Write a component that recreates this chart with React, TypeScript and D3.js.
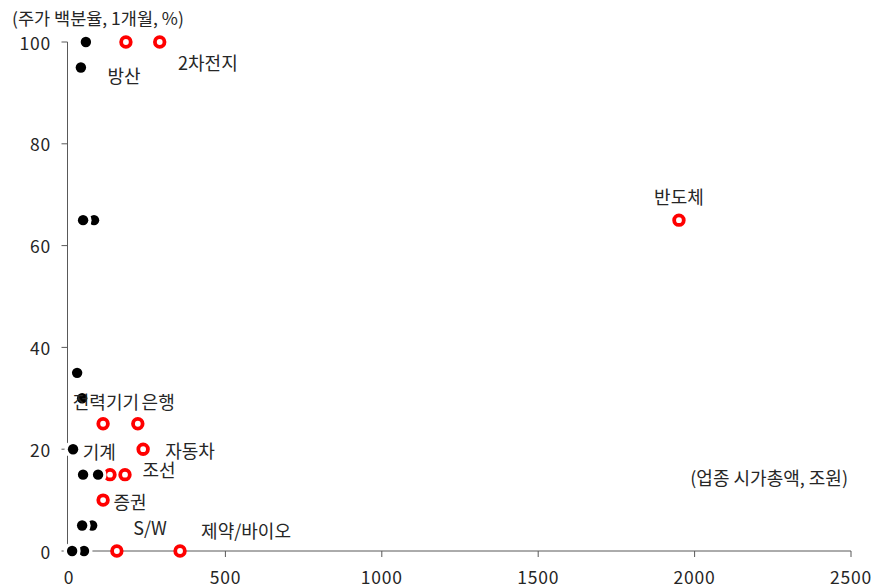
import React from "react";
import * as d3 from "d3";

// Black series (sector points)
const blackX = [54, 38, 45, 80, 26, 42, 13, 45, 93, 42, 74, 10, 48];
const blackY = [100, 95, 65, 65, 35, 30, 20, 15, 15, 5, 5, 0, 0];

// Red hollow series
const redX = [182, 290, 1950, 109, 220, 237, 131, 179, 109, 153, 355];
const redY = [100, 100, 65, 25, 25, 20, 15, 15, 10, 0, 0];

// Sector labels (anchored in data units)
const labelNames = ["방산", "2차전지", "반도체", "전력기기", "은행", "기계", "자동차", "조선", "증권", "S/W", "제약/바이오"];
const labelX = [176, 444, 1950, 118, 285, 97, 387, 288, 195, 259, 566];
const labelY = [93.5, 96.1, 69.7, 29.5, 29.5, 19.6, 19.8, 16.1, 9.8, 4.7, 4.1];

const xTicks = [0, 500, 1000, 1500, 2000, 2500];
const yTicks = [0, 20, 40, 60, 80, 100];

const yTitle = "(주가 백분율, 1개월, %)";
const xTitle = "(업종 시가총액, 조원)";

const W = 878;
const H = 588;
const FONT = "'Noto Sans CJK KR', 'Noto Sans', sans-serif";

export default function App() {
  const x = d3.scaleLinear().domain([0, 2500]).range([69, 851]);
  const y = d3.scaleLinear().domain([0, 100]).range([551, 42]);

  const black = blackX.map((v, i) => ({ x: v, y: blackY[i] }));
  // draw right-most first so left markers overlap them
  const blackDraw = black.slice().sort((a, b) => b.x - a.x);
  const red = redX.map((v, i) => ({ x: v, y: redY[i] }));
  const labels = labelNames.map((n, i) => ({ n, x: labelX[i], y: labelY[i] }));

  const axisColor = "#595959";
  const textColor = "#262626";

  return (
    <svg
      width={W}
      height={H}
      style={{ position: "absolute", left: 0, top: 0, background: "#fff" }}
      fontFamily={FONT}
    >
      {/* axes */}
      <line x1={x(0)} x2={x(2500)} y1={y(0)} y2={y(0)} stroke={axisColor} strokeWidth={1} />
      {xTicks.map((t) => (
        <g key={"xt" + t}>
          <line x1={x(t)} x2={x(t)} y1={y(0)} y2={y(0) + 6} stroke={axisColor} />
          <text x={x(t)} y={y(0) + 25} textAnchor="middle" dominantBaseline="central" fontSize={17.5} letterSpacing={0.8} fill={textColor}>
            {t}
          </text>
        </g>
      ))}
      <line x1={x(0) - 1.5} x2={x(0) - 1.5} y1={y(100)} y2={y(0)} stroke={axisColor} strokeWidth={1} />
      {yTicks.map((t) => (
        <g key={"yt" + t}>
          <line x1={x(0) - 7.5} x2={x(0) - 1.5} y1={y(t)} y2={y(t)} stroke={axisColor} />
          <text x={x(0) - 18} y={y(t)} textAnchor="end" dominantBaseline="central" fontSize={17.5} letterSpacing={0.8} fill={textColor}>
            {t}
          </text>
        </g>
      ))}

      {/* red hollow markers */}
      {red.map((d, i) => (
        <circle key={"r" + i} cx={x(d.x)} cy={y(d.y)} r={4.8} fill="#fff" stroke="#ff0000" strokeWidth={3.8} />
      ))}

      {/* black markers with white halo */}
      {blackDraw.map((d, i) => (
        <g key={"b" + i}>
          <circle cx={x(d.x)} cy={y(d.y)} r={8.5} fill="#fff" />
          <circle cx={x(d.x)} cy={y(d.y)} r={5.2} fill="#000" />
        </g>
      ))}

      {/* labels */}
      {labels.map((l, i) => (
        <text
          key={"l" + i}
          x={x(l.x)}
          y={y(l.y)}
          textAnchor="middle"
          dominantBaseline="central"
          fontSize={18}
          fill={textColor}
        >
          {l.n}
        </text>
      ))}

      {/* titles */}
      <text x={12} y={17} dominantBaseline="central" fontSize={17.5} fill={textColor}>
        {yTitle}
      </text>
      <text x={848} y={477} textAnchor="end" dominantBaseline="central" fontSize={18} fill={textColor}>
        {xTitle}
      </text>
    </svg>
  );
}
